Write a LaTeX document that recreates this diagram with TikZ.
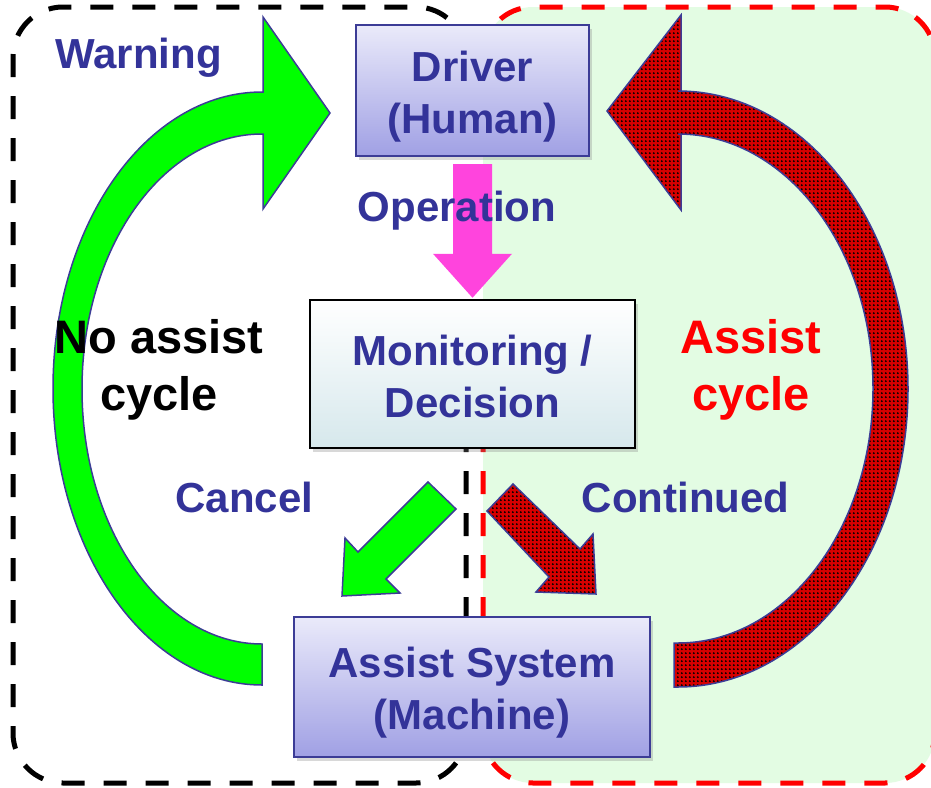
\documentclass[tikz,border=0pt]{standalone}
\usepackage{fontspec}
\setmainfont{Liberation Sans}
\usetikzlibrary{calc,shadows,patterns}
\definecolor{txtblue}{RGB}{51,51,153}
\definecolor{edgeblue}{RGB}{60,60,150}
\definecolor{bgreen}{RGB}{227,252,227}
\definecolor{agreen}{RGB}{0,255,0}
\definecolor{apink}{RGB}{255,68,221}
\definecolor{boxtop}{RGB}{234,234,250}
\definecolor{boxbot}{RGB}{160,160,228}
\definecolor{montop}{RGB}{255,255,255}
\definecolor{monbot}{RGB}{214,232,236}
\definecolor{ared}{RGB}{255,0,0}
\definecolor{arrowred}{RGB}{215,0,0}
\newcommand{\lnstrut}{\rule[-8pt]{0pt}{50pt}}
\pgfdeclarepatternformonly{redots}{\pgfqpoint{0pt}{0pt}}{\pgfqpoint{4.2pt}{4.2pt}}{\pgfqpoint{4.2pt}{4.2pt}}{\pgfpathcircle{\pgfqpoint{2.1pt}{2.1pt}}{1.2pt}\pgfusepath{fill}}
\begin{document}
\begin{tikzpicture}[x=1pt,y=-1pt,
  lbl/.style={font=\bfseries\fontsize{42}{52}\selectfont, text=txtblue, inner sep=0pt},
  cyclbl/.style={font=\bfseries\fontsize{47}{56.5}\selectfont, inner sep=0pt, align=center},
  sysbox/.style={draw=edgeblue, line width=2pt, top color=boxtop, bottom color=boxbot,
    inner sep=0pt, align=center, font=\bfseries\fontsize{42}{52}\selectfont, text=txtblue,
    drop shadow={shadow xshift=3pt, shadow yshift=-4pt, opacity=0.3}},
  monbox/.style={sysbox, draw=black, line width=2.5pt, top color=montop, bottom color=monbot},
  region/.style={line width=5pt, dash pattern=on 23pt off 19pt, dash phase=19pt, rounded corners=50pt},
  greenarrow/.style={draw=edgeblue, line width=1.5pt, fill=agreen},
  redarrow/.style={draw=edgeblue, line width=1.5pt, preaction={fill=arrowred}, pattern=redots, pattern color=black}
]
\useasboundingbox (0,0) rectangle (931,787);
\clip (0,0) rectangle (931,787);
\fill[white] (0,0) rectangle (931,787);

% regions
\fill[bgreen, rounded corners=50pt] (483,7) rectangle (935,783);
\draw[region, draw=ared] (483,448) -- (483,783) -- (935,783) -- (935,7) -- (483,7) -- (483,156);
\draw[region, draw=black] (466,448) -- (466,783) -- (13,783) -- (13,7) -- (466,7) -- (466,156);

% big green arrow (no assist cycle)
\path[greenarrow] (330,113) -- (263,209) -- (263,134) -- (262,134)
  arc[start angle=-90, end angle=-270, x radius=180, y radius=255]
  -- (262,685)
  arc[start angle=90, end angle=270, x radius=209, y radius=296.5]
  -- (263,92) -- (263,17) -- cycle;

% big red arrow (assist cycle)
\path[redarrow] (607,111) -- (681,15) -- (681,91) -- (678,91)
  arc[start angle=-90, end angle=90, x radius=230, y radius=298]
  -- (674,687) -- (674,643) -- (678,643)
  arc[start angle=90, end angle=-90, x radius=195, y radius=254.5]
  -- (681,134) -- (681,210) -- cycle;

% boxes
\node[sysbox, minimum width=233pt, minimum height=131pt] (driver) at (472.5,90.5) {\lnstrut Driver\\\lnstrut (Human)};
\node[monbox, minimum width=325pt, minimum height=148pt] (monitor) at (472.5,374) {\lnstrut Monitoring /\\\lnstrut Decision};
\node[sysbox, minimum width=356pt, minimum height=140pt] (assist) at (472,687) {\lnstrut Assist System\\\lnstrut (Machine)};

% operation arrow
\fill[apink] ($(driver.south)+(-19.5,7)$) -- ($(driver.south)+(19.5,7)$)
  -- ($(monitor.north)+(19.5,-45)$) -- ($(monitor.north)+(39.5,-45)$)
  -- ($(monitor.north)+(0,-1)$) -- ($(monitor.north)+(-39.5,-45)$)
  -- ($(monitor.north)+(-19.5,-45)$) -- cycle;

% cancel / continued arrows
\path[greenarrow] (428,482) -- (358,552) -- (345,538) -- (342,596) -- (400,593) -- (386,579) -- (456,509) -- cycle;
\path[redarrow] (513,484) -- (580,549) -- (593,534) -- (596,594) -- (536,592) -- (549,577) -- (487,511) -- cycle;

% labels
\node[lbl, anchor=base] (warn) at (138.5,68) {Warning};
\node[lbl, anchor=base] (oper) at (457,221) {Operation};
\node[lbl, anchor=base] (cancel) at (244.5,512) {Cancel};
\node[lbl, anchor=base] (cont) at (685.5,512) {Continued};
\node[cyclbl, text=black] (noassist) at (159,366) {\lnstrut No assist\\\lnstrut cycle};
\node[cyclbl, text=ared] (assistcyc) at (751,366) {\lnstrut Assist\\\lnstrut cycle};
\end{tikzpicture}
\end{document}
